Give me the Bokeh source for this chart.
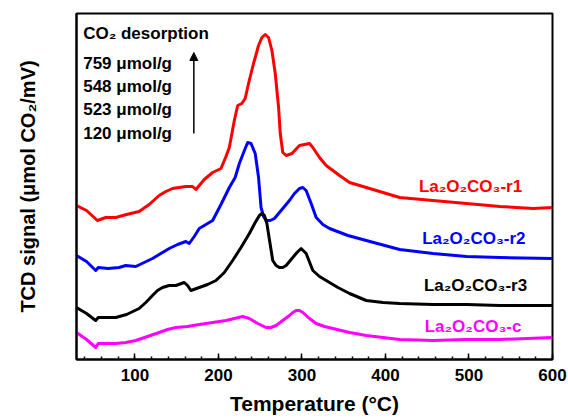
from bokeh.plotting import figure
from bokeh.models import Range1d, SingleIntervalTicker, FixedTicker, Label, Arrow, NormalHead
from bokeh.embed import file_html
from bokeh.resources import INLINE

# ---- data (temperature in degC, TCD signal in arbitrary offset units) ----
t_r1 = [30, 42, 55, 65, 77, 90, 105, 117, 129, 137, 145, 153, 161, 169, 173, 183, 193, 203, 209,
        213, 219, 223, 228, 232, 236, 242, 248, 252, 256, 260, 264, 268, 272, 274, 277, 281, 288,
        297, 309, 313, 321, 329, 345, 357, 373, 389, 417, 457, 497, 537, 577, 600]
s_r1 = [154, 149, 139, 142, 142, 145, 148, 155, 164, 168, 171, 172, 173, 173, 170, 180, 187, 191, 203,
        212, 239, 254, 256, 261, 276, 296, 314, 322, 325, 322, 309, 286, 252, 226, 207, 204, 206,
        214, 216, 212, 202, 194, 184, 177, 173, 169, 162, 159, 156, 153, 151, 152]

t_r2 = [30, 42, 53, 56, 68, 81, 89, 101, 111, 121, 131, 141, 151, 161, 165, 171, 177, 185, 193,
        203, 213, 220, 225, 232, 235, 239, 244, 248, 251, 254, 257, 262, 267, 276, 285, 291, 297,
        301, 305, 311, 317, 325, 333, 355, 377, 417, 457, 497, 537, 600]
s_r2 = [104, 98, 89, 92, 91, 92, 94, 93, 97, 101, 106, 111, 115, 118, 116, 123, 131, 135, 139,
        155, 172, 182, 196, 211, 217, 216, 206, 182, 152, 143, 139, 139, 141, 150, 159, 166, 171,
        172, 169, 156, 142, 135, 131, 124, 119, 110, 106, 103, 102, 101]

t_r3 = [30, 42, 53, 56, 66, 77, 90, 105, 113, 121, 127, 133, 141, 149, 159, 163, 167, 177, 187,
        197, 207, 217, 227, 237, 244, 249, 252, 255, 258, 261, 265, 269, 273, 277, 281, 288, 294,
        299, 305, 313, 321, 329, 343, 357, 377, 397, 417, 457, 497, 537, 600]
s_r3 = [52, 46, 39, 42, 42, 42, 45, 51, 57, 64, 69, 72, 74, 74, 77, 74, 69, 72, 75,
        79, 87, 99, 112, 126, 137, 144, 146, 144, 136, 120, 99, 94, 92, 92, 94, 101, 107,
        111, 106, 89, 83, 79, 72, 66, 59, 57, 56, 55, 55, 54, 54]

t_c = [30, 42, 53, 56, 66, 77, 89, 101, 115, 129, 139, 149, 163, 177, 193, 209, 219, 229, 237,
       247, 257, 263, 269, 277, 285, 289, 293, 297, 301, 309, 317, 327, 337, 357, 377, 397, 417,
       457, 497, 537, 600]
s_c = [27, 20, 12, 16, 16, 16, 17, 19, 23, 27, 30, 32, 33, 35, 37, 39, 41, 43, 41,
       36, 32, 32, 34, 39, 44, 47, 49, 49, 47, 41, 36, 33, 31, 27, 24, 22, 20,
       19, 20, 20, 22]

series_names = ["La\u2082O\u2082CO\u2083-r1", "La\u2082O\u2082CO\u2083-r2",
                "La\u2082O\u2082CO\u2083-r3", "La\u2082O\u2082CO\u2083-c"]
series_colors = ["#ff0000", "#0000ff", "#000000", "#ff00ff"]
capacities = ["759 \u03bcmol/g", "548 \u03bcmol/g", "523 \u03bcmol/g", "120 \u03bcmol/g"]

FONT = "Liberation Sans"

p = figure(width=568, height=420, output_backend="svg", toolbar_location=None,
           x_range=Range1d(30, 600), y_range=Range1d(0, 346),
           min_border_left=76, min_border_right=16, min_border_top=13, min_border_bottom=61)
p.background_fill_color = "white"
p.border_fill_color = "white"
p.grid.visible = False
p.outline_line_color = "black"
p.outline_line_width = 2

xa = p.xaxis[0]
xa.ticker = SingleIntervalTicker(interval=100, num_minor_ticks=5)
xa.major_tick_in = 6
xa.major_tick_out = 0
xa.minor_tick_in = 3
xa.minor_tick_out = 0
xa.major_tick_line_width = 1.5
xa.minor_tick_line_width = 1.5
xa.major_tick_line_color = "black"
xa.minor_tick_line_color = "black"
xa.axis_line_width = 2
xa.axis_line_color = "black"
xa.major_label_text_font = FONT
xa.major_label_text_font_style = "bold"
xa.major_label_text_font_size = "17px"
xa.major_label_text_color = "black"
xa.major_label_standoff = 9
xa.axis_label = "Temperature (\u00b0C)"
xa.axis_label_text_font = FONT
xa.axis_label_text_font_style = "bold"
xa.axis_label_text_font_size = "21px"
xa.axis_label_text_color = "black"
xa.axis_label_standoff = 8

ya = p.yaxis[0]
ya.ticker = FixedTicker(ticks=[])
ya.axis_line_width = 2
ya.axis_line_color = "black"
ya.axis_label = "TCD signal (\u03bcmol CO\u2082/mV)"
ya.axis_label_text_font = FONT
ya.axis_label_text_font_style = "bold"
ya.axis_label_text_font_size = "20px"
ya.axis_label_text_color = "black"
ya.axis_label_standoff = 38

for t, s, c in zip([t_r1, t_r2, t_r3, t_c], [s_r1, s_r2, s_r3, s_c], series_colors):
    p.line(t, s, line_color=c, line_width=3, line_join="round")

# series labels
label_pos = [(440, 173), (444, 121), (446, 74), (447, 33)]
for name, col, (lx, ly) in zip(series_names, series_colors, label_pos):
    p.add_layout(Label(x=lx, y=ly, text=name, text_color=col, text_font=FONT,
                       text_font_style="bold", text_font_size="17px",
                       text_baseline="alphabetic"))

p.add_layout(Label(x=38, y=326, text="CO\u2082 desorption", text_font=FONT, text_color="black",
                   text_font_style="bold", text_font_size="17px", text_baseline="alphabetic"))
for i, cap in enumerate(capacities):
    p.add_layout(Label(x=38, y=296 - i * 23.2, text=cap, text_font=FONT, text_color="black",
                       text_font_style="bold", text_font_size="17px", text_baseline="alphabetic"))

p.add_layout(Arrow(end=NormalHead(size=8, fill_color="black", line_color="black"),
                   x_start=170.5, y_start=226, x_end=170.5, y_end=307,
                   line_width=1.5, line_color="black"))

open("out.html", "w").write(file_html(p, INLINE))
